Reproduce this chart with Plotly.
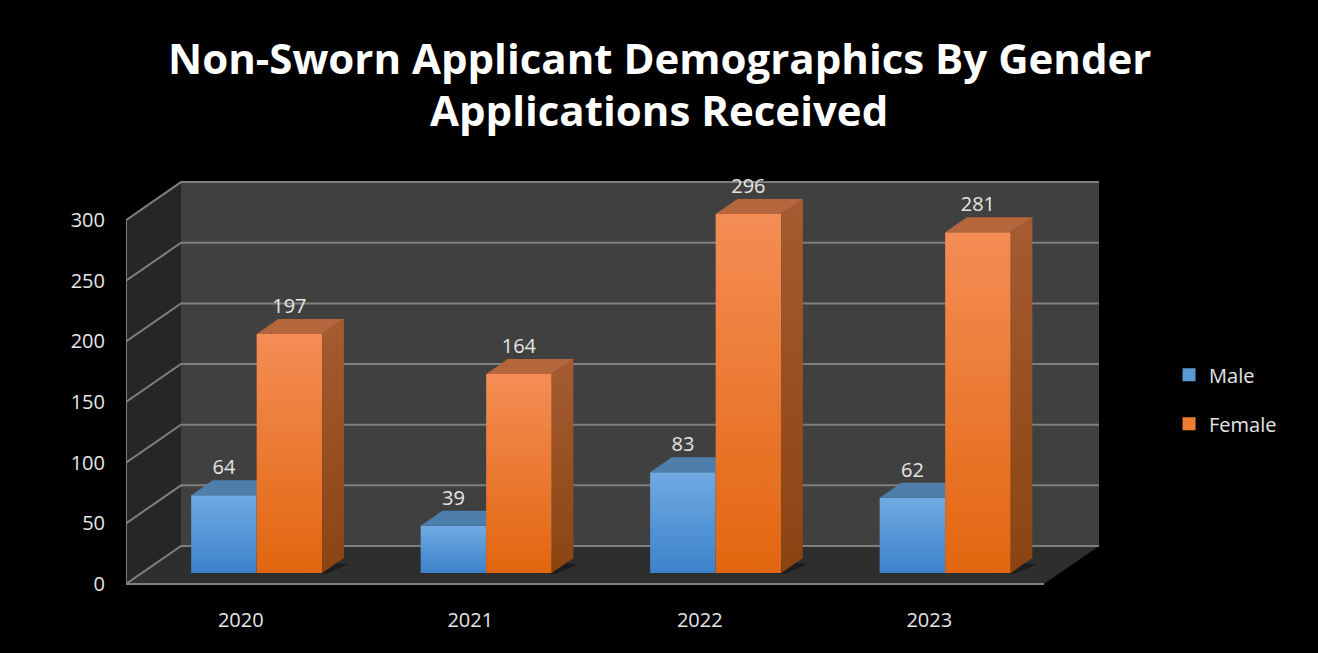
import plotly.graph_objects as go

# ---- data -------------------------------------------------------------
years = ["2020", "2021", "2022", "2023"]
male = [64, 39, 83, 62]
female = [197, 164, 296, 281]
y_ticks = [0, 50, 100, 150, 200, 250, 300]

# ---- geometry of the pseudo-3D box (axis units) -----------------------
W, H = 1318, 653
M_L, M_R, M_T, M_B = 126, 208, 170, 53
PX_X = 229.5          # pixels per category step
PX_Y = 1.213          # pixels per value unit
X0, X1 = -0.5, 3.5    # front edge of the floor
DX = 55 / PX_X        # full depth offset (to the back wall)
DY = 38 / PX_Y
F0 = 11 / 38          # depth fraction of the bar front faces
FB = 15 / 38          # depth of a bar as a fraction of the box depth
BW = 65.5 / PX_X      # bar width
YMAX_WALL = max(y_ticks)

x_lo = X0
x_hi = X0 + (W - M_L - M_R) / PX_X
y_lo = -16 / PX_Y
y_hi = y_lo + (H - M_T - M_B) / PX_Y

TICK_FONT = dict(family="Open Sans", size=20, color="#e6e6e6")


def proj(x, v, f):
    """Oblique projection: front-plane x, value v, depth fraction f."""
    return x + f * DX, v + f * DY


def poly(points):
    xs = [p[0] for p in points] + [points[0][0]]
    ys = [p[1] for p in points] + [points[0][1]]
    return xs, ys


fig = go.Figure()


def add_face(points, color=None, grad=None):
    xs, ys = poly(points)
    kw = dict(x=xs, y=ys, mode="lines", line=dict(width=0), fill="toself",
              hoverinfo="skip", showlegend=False)
    if grad:
        kw["fillgradient"] = dict(type="vertical", colorscale=grad)
    else:
        kw["fillcolor"] = color
    fig.add_trace(go.Scatter(**kw))


def add_line(points, color="#7f7f7f", width=2):
    fig.add_trace(go.Scatter(x=[p[0] for p in points], y=[p[1] for p in points],
                             mode="lines", line=dict(color=color, width=width),
                             hoverinfo="skip", showlegend=False))


# walls and floor
add_face([proj(X0, 0, 1), proj(X1, 0, 1), proj(X1, YMAX_WALL, 1), proj(X0, YMAX_WALL, 1)], "#404040")
add_face([proj(X0, 0, 0), proj(X0, 0, 1), proj(X0, YMAX_WALL, 1), proj(X0, YMAX_WALL, 0)], "#262626")
add_face([proj(X0, 0, 0), proj(X1, 0, 0), proj(X1, 0, 1), proj(X0, 0, 1)], "#2e2e2e")

# gridlines along the left and back walls
for v in y_ticks:
    add_line([proj(X0, v, 0), proj(X0, v, 1), proj(X1, v, 1)])
add_line([proj(X0, 0, 0), proj(X1, 0, 0)])
add_line([proj(X0, 0, 0), proj(X0, YMAX_WALL, 0)])

series = [
    ("Male", male, -1,
     [[0, "#3c82cb"], [1, "#70aae2"]], "#4e7eac", [[0, "#2b5a8c"], [1, "#3f6f9f"]], "#5b9bd5"),
    ("Female", female, 0,
     [[0, "#e2660f"], [1, "#f48d55"]], "#b6663c", [[0, "#8a4412"], [1, "#a65b31"]], "#ed7d31"),
]

label_x, label_y, label_t = [], [], []
for i in range(len(years)):
    # soft shadow on the floor behind each pair of bars
    add_face([proj(i - BW + 0.03, 0, F0 + FB * 0.2), proj(i + BW + 0.02, 0, F0 - 0.02),
              proj(i + BW + 0.06, 0, F0 + FB * 0.6), proj(i - BW + 0.06, 0, F0 + FB + 0.05)],
             "rgba(15,15,15,0.55)")
    for name, vals, side, front_g, top_c, side_g, _ in series:
        v = vals[i]
        xa = i + side * BW
        xb = xa + BW
        # front face
        add_face([proj(xa, 0, F0), proj(xb, 0, F0), proj(xb, v, F0), proj(xa, v, F0)], grad=front_g)
        # right side face
        add_face([proj(xb, 0, F0), proj(xb, 0, F0 + FB), proj(xb, v, F0 + FB), proj(xb, v, F0)], grad=side_g)
        # top face
        add_face([proj(xa, v, F0), proj(xb, v, F0), proj(xb, v, F0 + FB), proj(xa, v, F0 + FB)], top_c)
        cx, _ = proj((xa + xb) / 2, v, F0)
        _, ty = proj(xa, v, F0 + FB)
        label_x.append(cx)
        label_y.append(ty + 11 / PX_Y)
        label_t.append(str(v))

fig.add_trace(go.Scatter(x=label_x, y=label_y, text=label_t, mode="text",
                         textposition="middle center", textfont=TICK_FONT,
                         hoverinfo="skip", showlegend=False))

# legend entries
for name, *rest in series:
    fig.add_trace(go.Scatter(x=[None], y=[None], mode="markers", name=name,
                             legendgroup=name,
                             marker=dict(symbol="square", size=13, color=rest[-1])))

fig.update_layout(
    width=W, height=H,
    paper_bgcolor="#000000", plot_bgcolor="#000000",
    margin=dict(l=M_L, r=M_R, t=M_T, b=M_B),
    showlegend=True,
    legend=dict(x=1.060, y=0.467, xanchor="left", yanchor="middle",
                traceorder="grouped", tracegroupgap=20,
                font=TICK_FONT, bgcolor="rgba(0,0,0,0)"),
    xaxis=dict(range=[x_lo, x_hi], tickvals=list(range(len(years))), ticktext=years,
               showgrid=False, zeroline=False, showline=False, ticks="",
               ticklabelstandoff=6, automargin=False, fixedrange=True,
               tickfont=TICK_FONT),
    yaxis=dict(range=[y_lo, y_hi], tickvals=y_ticks,
               showgrid=False, zeroline=False, showline=False, ticks="",
               ticklabelstandoff=20, automargin=False, fixedrange=True,
               tickfont=TICK_FONT),
)

# two-line title positioned in page pixels
for txt, py in [("Non-Sworn Applicant Demographics By Gender", 57),
                ("Applications Received", 110)]:
    fig.add_annotation(text="<b>" + txt + "</b>", xref="paper", yref="paper",
                       x=(W / 2 - M_L) / (W - M_L - M_R),
                       y=(H - M_B - py) / (H - M_T - M_B),
                       showarrow=False, xanchor="center", yanchor="middle",
                       font=dict(family="Open Sans", size=42, color="#ffffff"))

fig.write_html("out.html")
